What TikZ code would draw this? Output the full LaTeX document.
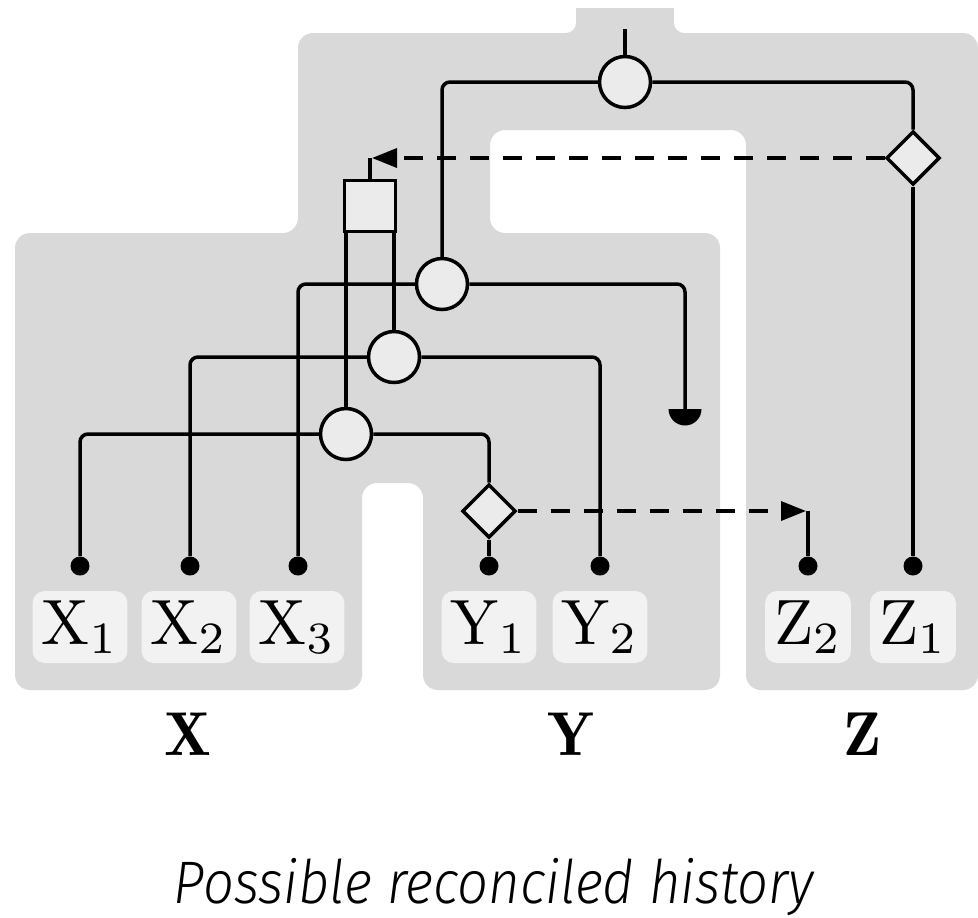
\RequirePackage{fix-cm}
\documentclass[tikz,border=0pt]{standalone}
\usepackage{fontspec}
\IfFontExistsTF{Fira Sans Light Italic}
  {\newfontfamily\capfont{Fira Sans Light Italic}}
  {\newfontfamily\capfont{Fira Sans}[UprightFont={* Italic}]}
\usetikzlibrary{shapes.geometric,arrows.meta}

\definecolor{bandgray}{HTML}{D9D9D9}
\definecolor{nodefill}{HTML}{EBEBEB}
\definecolor{tagfill}{HTML}{F2F2F2}

\tikzset{
  event/.style={circle, draw, line width=1.75pt, fill=nodefill, minimum size=25.5pt, inner sep=0pt},
  transfer/.style={diamond, draw, line width=1.75pt, fill=nodefill, minimum size=26.75pt, inner sep=0pt, aspect=1},
  dupbox/.style={rectangle, draw, line width=1.75pt, fill=nodefill, minimum size=25.5pt, inner sep=0pt},
  leaf/.style={circle, fill=black, minimum size=9.5pt, inner sep=0pt},
  tag/.style={rounded corners=6pt, fill=tagfill, minimum height=36pt, inner xsep=4.5pt, inner ysep=0pt},
  grouplabel/.style={inner sep=0pt},
  branch/.style={line width=1.75pt, rounded corners=4pt},
  hgt/.style={line width=1.75pt, dash pattern=on 9.5pt off 7pt,
              -{Triangle[length=12.5pt,width=9.5pt]}},
}
\newcommand{\leafname}[2]{\scalebox{3.2}{$\mathrm{#1}_{#2}$}}
\newcommand{\groupname}[1]{\scalebox{3.1}{$\mathbf{#1}$}}

\begin{document}
\begin{tikzpicture}[x=0.5pt, y=-0.5pt]
  \useasboundingbox (0,0) rectangle (978,917);

  % species tree outline
  \fill[bandgray, rounded corners=7.5pt]
    (298,233) -- (298,33) -- (978,33) -- (978,690) -- (746,690) -- (746,130)
    -- (490,130) -- (490,233) -- (720,233) -- (720,690) -- (423,690)
    -- (423,483) -- (362,483) -- (362,690) -- (15,690) -- (15,233) -- cycle;
  % root stem tab with its fillets
  \fill[bandgray] (576,8) rectangle (674,40);
  \fill[bandgray] (566,33) -- (576,33) -- (576,23)
    arc[start angle=0, end angle=-90, radius=5pt] -- cycle;
  \fill[bandgray] (684,33) -- (674,33) -- (674,23)
    arc[start angle=180, end angle=270, radius=5pt] -- cycle;

  % leaf tags
  \node[tag] (tx1) at (80,627)  {\leafname{X}{1}};
  \node[tag] (tx2) at (189,627) {\leafname{X}{2}};
  \node[tag] (tx3) at (297,627) {\leafname{X}{3}};
  \node[tag] (ty1) at (489,627) {\leafname{Y}{1}};
  \node[tag] (ty2) at (600,627) {\leafname{Y}{2}};
  \node[tag] (tz2) at (808,627) {\leafname{Z}{2}};
  \node[tag] (tz1) at (913,627) {\leafname{Z}{1}};

  % group labels
  \node[grouplabel] (gx) at (188,734) {\groupname{X}};
  \node[grouplabel] (gy) at (571,734) {\groupname{Y}};
  \node[grouplabel] (gz) at (862,734) {\groupname{Z}};

  % gene tree events
  \coordinate (top) at (625,29);
  \node[event] (R) at (625,82) {};
  \node[event] (A) at (442,284) {};
  \node[event] (B) at (394,357) {};
  \node[event] (C) at (346,434) {};
  \node[dupbox] (S) at (370,206) {};
  \node[transfer] (DZ) at (913,158) {};
  \node[transfer] (DY) at (489,511) {};
  \coordinate (L) at (685,409);
  \coordinate (fz) at (372,158);
  \coordinate (fy) at (806,511);

  % leaves
  \node[leaf] (x1) at (80,566) {};
  \node[leaf] (x2) at (190,566) {};
  \node[leaf] (x3) at (298,566) {};
  \node[leaf] (y1) at (489,566) {};
  \node[leaf] (y2) at (600,566) {};
  \node[leaf] (z2) at (808,566) {};
  \node[leaf] (z1) at (913,566) {};

  % branches
  \draw[branch] (top) -- (R.north);
  \draw[branch] (R.west) -| (A.north);
  \draw[branch] (R.east) -| (DZ.north);
  \draw[branch] (DZ.south) -- (z1);
  \draw[branch] (S.north) -- (S.north |- fz);
  \draw[branch] (C.north |- S.south) -- (C.north);
  \draw[branch] (B.north |- S.south) -- (B.north);
  \draw[branch] (A.west) -| (x3);
  \draw[branch] (A.east) -| (L);
  \draw[branch] (B.west) -| (x2);
  \draw[branch] (B.east) -| (y2);
  \draw[branch] (C.west) -| (x1);
  \draw[branch] (C.east) -| (DY.north);
  \draw[branch] (DY.south) -- (y1);
  \draw[branch] (z2) -- (z2 |- fy);

  % gene loss
  \fill (L) ++(-8.25pt,0pt) arc[start angle=180, end angle=360, radius=8.25pt] -- cycle;

  % transfers
  \draw[hgt] (DZ.west) -- (fz);
  \draw[hgt] (DY.east) -- (fy);

  % caption
  \node[anchor=base, inner sep=0pt] (cap) at (494,903)
    {\resizebox{320pt}{\height}{\capfont\fontsize{30}{36}\selectfont Possible reconciled history}};
\end{tikzpicture}
\end{document}
